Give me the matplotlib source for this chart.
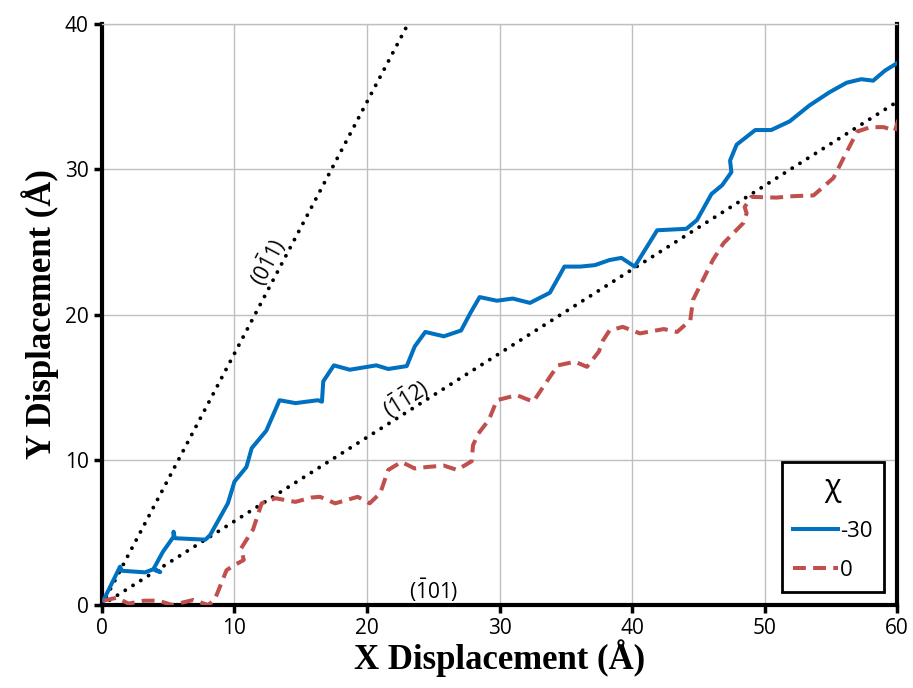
import numpy as np
import matplotlib
matplotlib.use('Agg')
import matplotlib.pyplot as plt

plt.rcParams['font.family'] = ['Open Sans', 'DejaVu Sans']
plt.rcParams['mathtext.fontset'] = 'custom'
plt.rcParams['mathtext.rm'] = 'Open Sans'

# chi = -30 trajectory (x, y in Angstrom)
x_m30 = [0.1, 1.36, 1.5, 3.25, 3.87, 4.4, 3.9, 4.6, 5.4, 5.4, 5.5, 7.8, 8.15, 9.5, 10.0, 10.9,
         11.3, 12.4, 13.4, 14.6, 16.3, 16.6, 16.7, 17.5, 18.7, 20.7, 21.6, 23.0, 23.6, 24.4,
         25.8, 27.1, 27.8, 28.5, 29.8, 31.0, 32.3, 33.8, 34.6, 34.9, 36.1, 37.2, 38.3, 39.2,
         40.2, 41.9, 44.1, 44.9, 46.0, 46.8, 47.5, 47.4, 47.9, 49.3, 50.5, 51.9, 53.4, 54.9,
         56.2, 57.3, 58.2, 59.1, 60.0]
y_m30 = [0.3, 2.64, 2.36, 2.25, 2.46, 2.27, 2.5, 3.67, 4.7, 5.05, 4.6, 4.5, 4.8, 7.0, 8.5, 9.5,
         10.8, 12.0, 14.1, 13.9, 14.1, 14.0, 15.4, 16.5, 16.2, 16.5, 16.25, 16.45, 17.8, 18.8,
         18.5, 18.9, 20.1, 21.2, 20.95, 21.1, 20.8, 21.5, 22.8, 23.3, 23.3, 23.4, 23.75, 23.9,
         23.3, 25.8, 25.9, 26.5, 28.3, 28.9, 29.8, 30.6, 31.7, 32.7, 32.7, 33.3, 34.4, 35.3,
         35.96, 36.2, 36.1, 36.8, 37.3]

# chi = 0 trajectory
x_0 = [0.1, 1.1, 2.0, 3.2, 4.25, 5.3, 6.9, 8.0, 8.5, 9.4, 10.0, 10.7, 10.5, 11.4, 12.05,
       13.1, 14.6, 15.8, 16.45, 17.6, 19.3, 20.2, 21.0, 21.6, 22.6, 23.6, 24.5, 25.8, 26.8,
       27.9, 28.0, 28.4, 29.2, 29.8, 31.3, 32.55, 33.8, 34.4, 35.7, 36.6, 37.5, 37.8, 38.3,
       39.3, 40.6, 42.4, 43.4, 44.4, 44.6, 46.1, 46.9, 48.4, 48.65, 48.5, 49.0, 50.9, 52.2,
       53.7, 55.2, 55.95, 57.0, 58.0, 59.0, 59.85, 60.1]
y_0 = [0.3, 0.5, 0.1, 0.3, 0.3, 0.0, 0.35, 0.0, 0.35, 2.4, 2.75, 3.1, 3.9, 5.2, 7.0,
       7.35, 7.1, 7.4, 7.45, 7.0, 7.45, 7.0, 7.7, 9.3, 9.85, 9.4, 9.5, 9.6, 9.3,
       9.9, 11.0, 11.8, 12.75, 14.1, 14.45, 14.0, 15.7, 16.5, 16.75, 16.4, 17.45, 18.2, 18.9,
       19.15, 18.7, 19.0, 18.8, 19.6, 21.0, 23.75, 24.9, 26.3, 26.97, 27.4, 28.1, 28.05, 28.15,
       28.2, 29.4, 30.75, 32.6, 32.9, 32.9, 32.65, 33.4]

# plane traces through the origin (angle from x axis, degrees)
plane_labels = [r'$\mathrm{(0\bar{1}1)}$', r'$\mathrm{(\bar{1}\bar{1}2)}$', r'$\mathrm{(\bar{1}01)}$']
plane_angles = [60, 30, 0]
label_pos = [(12.5, 23.6), (22.9, 14.25), (25.0, 1.0)]
label_rot = [62, 32, 0]

fig = plt.figure(figsize=(9.13, 6.88), dpi=100)
ax = fig.add_axes([0.1117, 0.1206, 0.8708, 0.8445])

xl = np.array([0, 60])
for ang in plane_angles[:2]:
    ax.plot(xl, xl * np.tan(np.radians(ang)), color='black', lw=2.8,
            linestyle=(0, (0.01, 2.35)), dash_capstyle='round', zorder=3)

ax.plot(x_m30, y_m30, color='#0070C0', lw=2.9, label='-30', zorder=4)
ax.plot(x_0, y_0, color='#C0504D', lw=2.9, linestyle=(0, (3.2, 1.8)), label='0', zorder=4)

for lab, (tx, ty), rot in zip(plane_labels, label_pos, label_rot):
    ax.text(tx, ty, lab, fontsize=15, rotation=rot, rotation_mode='anchor',
            ha='center', va='center', zorder=5)

ax.set_xlim(0, 60)
ax.set_ylim(0, 40)
ax.set_xticks(range(0, 61, 10))
ax.set_yticks(range(0, 41, 10))
ax.grid(True, color='#BFBFBF', lw=1)
ax.set_axisbelow(True)
ax.tick_params(labelsize=15, width=2.5, length=6, direction='out', color='black')
for s in ['left', 'bottom', 'right']:
    ax.spines[s].set_linewidth(3)
    ax.spines[s].set_color('black')
ax.spines['top'].set_color('#BFBFBF')
ax.spines['top'].set_linewidth(1)
ax.tick_params(axis='y', right=False)

ax.set_xlabel('X Displacement (Å)', family='Liberation Serif', fontweight='bold', fontsize=25, labelpad=0)
ax.set_ylabel('Y Displacement (Å)', family='Liberation Serif', fontweight='bold', fontsize=25, labelpad=4)

leg = ax.legend(title='χ', loc='lower right', fontsize=16, title_fontsize=22,
                frameon=True, fancybox=False, handlelength=2.0, handletextpad=0.1,
                borderaxespad=0.6, borderpad=0.5, labelspacing=0.8)
leg.get_frame().set_edgecolor('black')
leg.get_frame().set_linewidth(2)
leg.get_frame().set_alpha(1)

fig.savefig('out.png', dpi=100)
